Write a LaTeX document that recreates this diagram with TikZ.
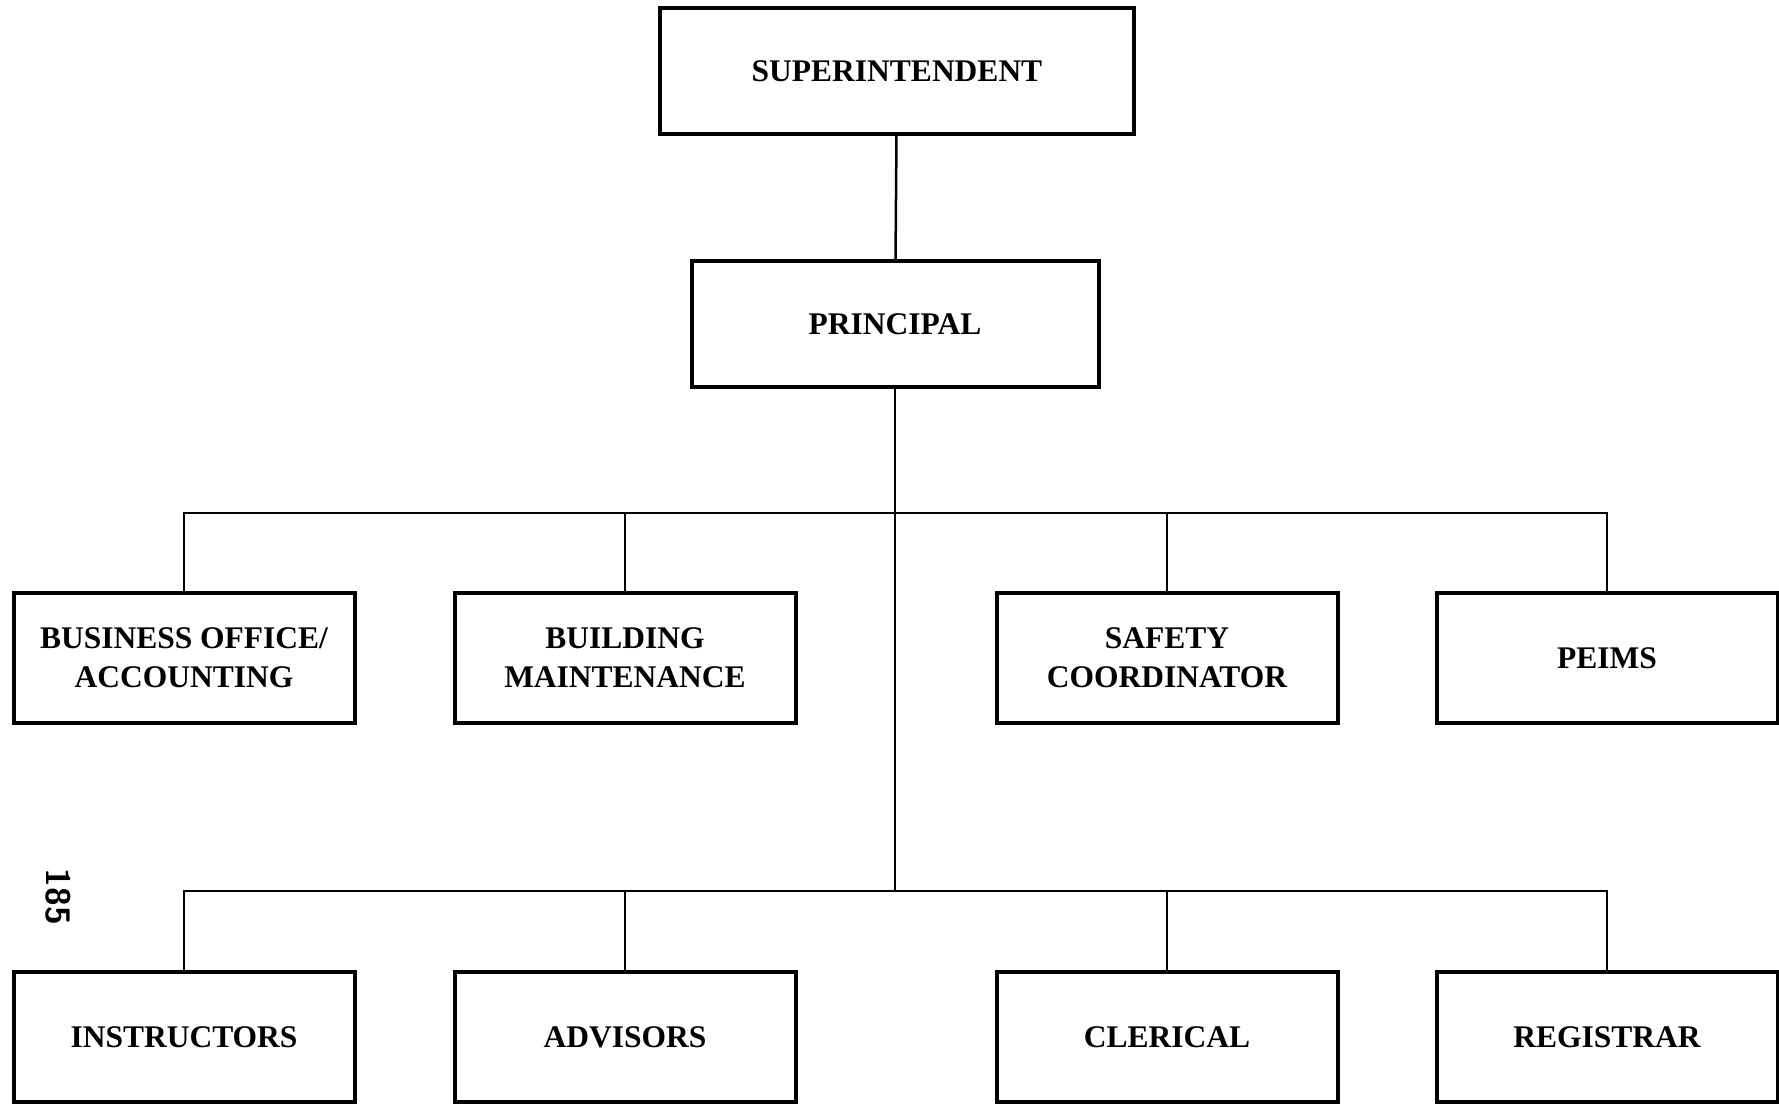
\documentclass[tikz,border=0pt]{standalone}
\usepackage{fontspec}
\setmainfont{Liberation Serif}
\usepackage{tikz}

\begin{document}
\begin{tikzpicture}[x=1pt,y=-1pt]
   \def\bw{341} % width of a lower box
   \def\bh{130} % height of a lower box
   \tikzset{box/.style={draw, line width=4pt, inner sep=0pt, align=center,
      font=\fontsize{31.5}{39}\selectfont\bfseries},
      link/.style={line width=2.5pt}}
   \useasboundingbox (0,0) rectangle (1779,1104);
   % top of the chart
   \node[box, minimum width=474, minimum height=126] (sup) at (897,71) {SUPERINTENDENT};
   \node[box, minimum width=407, minimum height=126] (prin) at (895,324) {PRINCIPAL};
   \coordinate (busa) at (895,513); % first branch line
   \coordinate (busb) at (895,891); % second branch line
   % row 1
   \node[box, minimum width=\bw, minimum height=\bh] (office) at (184,658) {BUSINESS OFFICE/\\ACCOUNTING};
   \node[box, minimum width=\bw, minimum height=\bh] (maint) at (625,658) {BUILDING\\MAINTENANCE};
   \node[box, minimum width=\bw, minimum height=\bh] (safety) at (1167,658) {SAFETY\\COORDINATOR};
   \node[box, minimum width=\bw, minimum height=\bh] (peims) at (1607,658) {PEIMS};
   % row 2
   \node[box, minimum width=\bw, minimum height=\bh] (instr) at (184,1037) {INSTRUCTORS};
   \node[box, minimum width=\bw, minimum height=\bh] (advis) at (625,1037) {ADVISORS};
   \node[box, minimum width=\bw, minimum height=\bh] (cleric) at (1167,1037) {CLERICAL};
   \node[box, minimum width=\bw, minimum height=\bh] (regis) at (1607,1037) {REGISTRAR};
   % connectors
   \draw[link] (sup) -- (prin);
   \draw[link] (prin) -- (busb);
   \foreach \n in {office,maint,safety,peims}
   \draw[link] (\n.north) |- (busa);
   \foreach \n in {instr,advis,cleric,regis}
   \draw[link] (\n.north) |- (busb);
   % page mark on the left
   \node[rotate=-90, font=\fontsize{34}{34}\selectfont\sffamily\bfseries] (page) at (58,897) {185};
\end{tikzpicture}
\end{document}
